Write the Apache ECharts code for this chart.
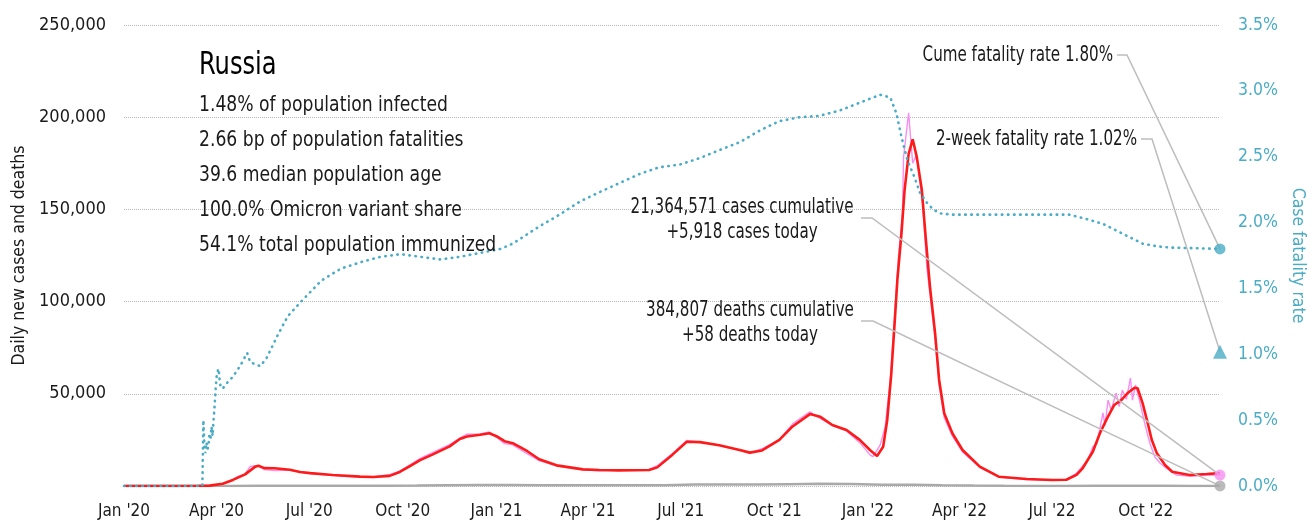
<!DOCTYPE html>
<html>
<head>
<meta charset="utf-8">
<script src="https://cdn.jsdelivr.net/npm/echarts@6/dist/echarts.min.js"></script>
<style>
  html, body { margin: 0; padding: 0; background: #fff; }
  #chart { width: 1312px; height: 522px; }
</style>
</head>
<body>
<div id="chart"></div>
<script>
const FONT = '"DejaVu Sans Condensed", "Liberation Sans Narrow", "Roboto Condensed", sans-serif';

// Daily new cases, 7-day average
const avgDates = ['2020-01-01','2020-03-10','2020-03-25','2020-04-07','2020-04-17','2020-04-29','2020-05-09','2020-05-12','2020-05-18','2020-05-28','2020-06-12','2020-06-22','2020-07-02','2020-07-24','2020-08-20','2020-09-02','2020-09-18','2020-09-28','2020-10-08','2020-10-18','2020-10-30','2020-11-16','2020-11-26','2020-12-03','2020-12-16','2020-12-25','2021-01-01','2021-01-09','2021-01-17','2021-01-31','2021-02-12','2021-03-01','2021-03-27','2021-04-12','2021-05-01','2021-05-31','2021-06-08','2021-06-23','2021-07-07','2021-07-20','2021-08-08','2021-08-28','2021-09-07','2021-09-19','2021-10-06','2021-10-19','2021-11-05','2021-11-15','2021-11-27','2021-12-11','2021-12-24','2022-01-03','2022-01-10','2022-01-16','2022-01-20','2022-01-24','2022-01-27','2022-01-30','2022-02-03','2022-02-06','2022-02-10','2022-02-14','2022-02-18','2022-02-23','2022-02-27','2022-03-03','2022-03-08','2022-03-12','2022-03-17','2022-03-25','2022-04-04','2022-04-21','2022-05-10','2022-06-06','2022-07-01','2022-07-15','2022-07-25','2022-07-31','2022-08-10','2022-08-17','2022-08-24','2022-08-31','2022-09-07','2022-09-13','2022-09-20','2022-09-23','2022-09-28','2022-10-03','2022-10-07','2022-10-12','2022-10-20','2022-10-27','2022-11-13','2022-11-30','2022-12-13'];
const avgCases = [0,0,200,1200,3300,6300,10500,11000,9700,9600,8800,7600,7000,6000,5100,4900,5500,7600,10800,14000,17000,21500,25500,26800,27800,28600,27000,24300,23200,19000,14500,11200,9000,8700,8500,8700,10100,17000,24000,23800,22100,19500,18100,19300,25000,32300,39000,37600,33100,30400,25000,19500,16300,21300,35800,61000,86000,112000,137000,160000,180000,188000,178500,160500,133500,108000,83000,57500,39500,28600,19500,10500,5000,3800,3250,3400,6000,9600,18600,28600,36700,43900,46600,50300,53300,53000,44800,34000,24900,17700,11400,7750,6000,6500,7000];

// Daily new cases as reported
const rawDates = ['2020-01-01','2020-03-10','2020-03-25','2020-04-07','2020-04-12','2020-04-17','2020-04-22','2020-04-29','2020-05-04','2020-05-09','2020-05-12','2020-05-18','2020-05-28','2020-06-12','2020-06-22','2020-07-02','2020-07-24','2020-08-20','2020-09-02','2020-09-18','2020-09-28','2020-10-08','2020-10-18','2020-10-30','2020-11-16','2020-11-26','2020-12-03','2020-12-16','2020-12-25','2021-01-01','2021-01-09','2021-01-17','2021-01-31','2021-02-12','2021-03-01','2021-03-27','2021-04-12','2021-05-01','2021-05-31','2021-06-08','2021-06-23','2021-07-07','2021-07-20','2021-08-08','2021-08-28','2021-09-07','2021-09-19','2021-10-06','2021-10-19','2021-11-05','2021-11-15','2021-11-27','2021-12-11','2021-12-24','2022-01-03','2022-01-06','2022-01-13','2022-01-18','2022-01-23','2022-01-27','2022-01-31','2022-02-04','2022-02-05','2022-02-10','2022-02-14','2022-02-17','2022-02-19','2022-02-24','2022-02-28','2022-03-03','2022-03-08','2022-03-12','2022-03-17','2022-03-25','2022-04-04','2022-04-21','2022-05-10','2022-06-06','2022-07-01','2022-07-15','2022-07-25','2022-07-31','2022-08-05','2022-08-10','2022-08-14','2022-08-20','2022-08-22','2022-08-25','2022-08-28','2022-09-02','2022-09-05','2022-09-08','2022-09-12','2022-09-16','2022-09-18','2022-09-21','2022-09-25','2022-09-30','2022-10-05','2022-10-10','2022-10-15','2022-10-21','2022-10-31','2022-11-15','2022-12-01','2022-12-13'];
const rawCases = [0,0,160,1150,2200,3400,5200,6400,10600,11000,10900,8900,8400,8700,7500,6700,5800,4900,4900,6100,8100,11500,15000,18100,22400,26000,28100,28200,29300,26500,23000,22300,17600,13800,11000,8800,8300,8900,9000,11000,17600,24700,23800,21900,19300,17800,20200,25100,33700,40200,36600,32900,29900,23500,16900,15900,22200,32200,57500,90000,124000,148000,178000,202400,175000,178600,175000,152000,118000,104000,80000,55000,37000,27000,18500,10000,4800,3500,3100,3500,7000,10800,14000,21300,23000,39600,33000,46600,41200,50400,43000,52000,47000,58600,46600,54800,46000,34000,23300,15700,12500,9800,6000,5200,6000,5918];

// Daily deaths, 7-day average
const deathDates = ['2020-01-01','2020-03-25','2020-04-15','2020-05-15','2020-06-15','2020-07-15','2020-08-15','2020-09-15','2020-10-15','2020-11-15','2020-12-15','2021-01-15','2021-02-15','2021-03-15','2021-04-15','2021-05-15','2021-06-15','2021-07-15','2021-08-15','2021-09-15','2021-10-15','2021-11-15','2021-12-15','2022-01-15','2022-02-15','2022-03-15','2022-04-15','2022-05-15','2022-06-15','2022-07-15','2022-08-15','2022-09-15','2022-10-15','2022-11-15','2022-12-13'];
const deaths = [0,0,40,140,150,130,110,110,230,400,550,540,450,390,370,370,460,750,790,790,1000,1210,1080,700,700,450,230,110,60,45,70,120,110,65,58];

// Case fatality rate, percent
const cfrDates = ['2020-01-01','2020-03-18','2020-03-19','2020-03-20','2020-03-21','2020-03-22','2020-03-23','2020-03-24','2020-03-25','2020-03-26','2020-03-27','2020-03-28','2020-03-29','2020-03-30','2020-03-31','2020-04-01','2020-04-02','2020-04-03','2020-04-04','2020-04-05','2020-04-07','2020-04-11','2020-04-17','2020-04-24','2020-05-01','2020-05-04','2020-05-14','2020-05-20','2020-06-01','2020-06-10','2020-06-23','2020-07-13','2020-08-01','2020-08-21','2020-09-09','2020-09-29','2020-10-18','2020-11-07','2020-11-26','2020-12-16','2021-01-05','2021-01-17','2021-01-31','2021-02-12','2021-03-04','2021-03-24','2021-04-12','2021-05-02','2021-05-22','2021-06-10','2021-06-30','2021-07-20','2021-08-08','2021-08-28','2021-09-17','2021-10-06','2021-10-26','2021-11-14','2021-12-04','2021-12-24','2022-01-13','2022-01-23','2022-01-29','2022-02-03','2022-02-09','2022-02-16','2022-02-21','2022-02-28','2022-03-06','2022-03-13','2022-03-25','2022-07-18','2022-07-28','2022-08-07','2022-08-20','2022-09-02','2022-09-15','2022-09-28','2022-10-12','2022-10-25','2022-12-13'];
const cfr = [0,0,0.50,0.30,0.25,0.33,0.28,0.30,0.40,0.35,0.45,0.38,0.50,0.60,0.73,0.83,0.87,0.89,0.80,0.75,0.74,0.78,0.83,0.91,1.01,0.94,0.91,0.97,1.16,1.29,1.40,1.56,1.65,1.70,1.74,1.76,1.74,1.72,1.74,1.77,1.80,1.84,1.91,1.97,2.06,2.16,2.23,2.30,2.37,2.42,2.44,2.49,2.55,2.61,2.70,2.77,2.80,2.81,2.85,2.91,2.97,2.95,2.83,2.65,2.47,2.34,2.23,2.15,2.10,2.07,2.06,2.06,2.04,2.02,1.99,1.94,1.89,1.84,1.82,1.81,1.80];

// Latest figures
const lastDate = '2022-12-13';
const casesCumulative = 21364571;
const casesToday = 5918;
const deathsCumulative = 384807;
const deathsToday = 58;
const cumeFatalityRate = 1.80;
const twoWeekFatalityRate = 1.02;

const country = 'Russia';
const statLines = [
  '1.48% of population infected',
  '2.66 bp of population fatalities',
  '39.6 median population age',
  '100.0% Omicron variant share',
  '54.1% total population immunized'
];

// Axis ticks
const xTickDates = ['2020-01-01','2020-04-01','2020-07-01','2020-10-01','2021-01-01','2021-04-01','2021-07-01','2021-10-01','2022-01-01','2022-04-01','2022-07-01','2022-10-01'];
const monthNames = ['Jan','Feb','Mar','Apr','May','Jun','Jul','Aug','Sep','Oct','Nov','Dec'];
const leftTicks = { min: 0, max: 250000, step: 50000 };
const rightTicks = { min: 0, max: 3.5, step: 0.5 };

const ts = s => { const p = s.split('-').map(Number); return Date.UTC(p[0], p[1] - 1, p[2]); };
const pairs = (dates, vals) => dates.map((d, i) => [ts(d), vals[i]]);
const fmt = n => n.toLocaleString('en-US');

const TEAL = '#4bacc6';
const RED = '#ff1a1a';
const PINK = '#f78ef2';
const GREY = '#a9a9a9';
const INK = '#1a1a1a';

const chart = echarts.init(document.getElementById('chart'), null, { renderer: 'canvas' });

const option = {
  animation: false,
  backgroundColor: '#fff',
  textStyle: { fontFamily: FONT },
  grid: { left: 124, right: 92, top: 25, bottom: 36, containLabel: false, outerBoundsMode: 'none' },
  xAxis: {
    // dates are plotted as UTC timestamps on a plain value scale
    type: 'value',
    min: ts('2020-01-01'),
    max: ts(lastDate),
    axisLine: { show: false },
    axisTick: { show: false },
    splitLine: { show: false },
    axisLabel: {
      customValues: xTickDates.map(ts),
      margin: 17,
      fontSize: 17,
      color: INK,
      fontFamily: FONT,
      hideOverlap: false,
      showMinLabel: true,
      showMaxLabel: true,
      formatter: v => { const d = new Date(v); return monthNames[d.getUTCMonth()] + " '" + String(d.getUTCFullYear()).slice(2); }
    }
  },
  yAxis: [
    {
      type: 'value',
      min: leftTicks.min, max: leftTicks.max, interval: leftTicks.step,
      name: 'Daily new cases and deaths',
      nameLocation: 'middle',
      nameRotate: 90,
      nameGap: 84,
      nameTextStyle: { fontSize: 17.5, color: INK, fontFamily: FONT },
      axisLine: { show: false },
      axisTick: { show: false },
      axisLabel: { margin: 18, fontSize: 18, color: INK, fontFamily: FONT, formatter: v => v === 0 ? '' : fmt(v) },
      splitLine: { show: true, lineStyle: { type: 'dotted', color: '#b9b9b9', width: 1 } }
    },
    {
      type: 'value',
      position: 'right',
      min: rightTicks.min, max: rightTicks.max, interval: rightTicks.step,
      name: 'Case fatality rate',
      nameLocation: 'middle',
      nameRotate: -90,
      nameGap: 66,
      nameTextStyle: { fontSize: 17.5, color: TEAL, fontFamily: FONT },
      axisLine: { show: false },
      axisTick: { show: false },
      axisLabel: { margin: 18, fontSize: 17.5, color: TEAL, fontFamily: FONT, formatter: v => v.toFixed(1) + '%' },
      splitLine: { show: false }
    }
  ],
  series: [
    {
      name: 'Daily cases', type: 'line', data: pairs(rawDates, rawCases),
      showSymbol: false, symbol: 'none', z: 2,
      lineStyle: { color: PINK, width: 1.4 }
    },
    {
      name: 'Daily deaths', type: 'line', data: pairs(deathDates, deaths),
      showSymbol: false, symbol: 'none', z: 3,
      lineStyle: { color: GREY, width: 2.5 }
    },
    {
      name: 'Cases, 7-day average', type: 'line', data: pairs(avgDates, avgCases),
      showSymbol: false, symbol: 'none', z: 4,
      lineStyle: { color: RED, width: 2.6 }
    },
    {
      name: 'Case fatality rate', type: 'line', yAxisIndex: 1, data: pairs(cfrDates, cfr),
      showSymbol: false, symbol: 'none', z: 5,
      lineStyle: { color: TEAL, width: 2.6, type: [0.5, 5.6], cap: 'round' }
    },
    {
      name: 'Cases today', type: 'scatter', data: [[ts(lastDate), casesToday]],
      symbol: 'circle', symbolSize: 11, clip: false, z: 8,
      itemStyle: { color: PINK }
    },
    {
      name: 'Deaths today', type: 'scatter', data: [[ts(lastDate), deathsToday]],
      symbol: 'circle', symbolSize: 11, clip: false, z: 8,
      itemStyle: { color: GREY }
    },
    {
      name: 'Cume fatality rate', type: 'scatter', yAxisIndex: 1, data: [[ts(lastDate), cumeFatalityRate]],
      symbol: 'circle', symbolSize: 11, clip: false, z: 8,
      itemStyle: { color: TEAL }
    },
    {
      name: '2-week fatality rate', type: 'scatter', yAxisIndex: 1, data: [[ts(lastDate), twoWeekFatalityRate]],
      symbol: 'triangle', symbolSize: 14, clip: false, z: 8,
      itemStyle: { color: TEAL }
    }
  ]
};

chart.setOption(option);

// Title block, annotations and leader lines; text is narrowed horizontally
const font = size => size + 'px ' + FONT;
const label = (text, x, y, size, squeeze, align, color) => ({
  type: 'text', z: 20, silent: true,
  x: x, y: y, scaleX: squeeze, scaleY: 1, originX: 0, originY: 0,
  style: { text: text, x: 0, y: 0, font: font(size), fill: color, textAlign: align, textVerticalAlign: 'middle' }
});

const graphics = [];
graphics.push(label(country, 199, 66, 32, 0.84, 'left', '#000'));
statLines.forEach((t, i) => graphics.push(label(t, 199, 106 + i * 35, 21, 0.91, 'left', INK)));

const notes = [
  { lines: ['Cume fatality rate ' + cumeFatalityRate.toFixed(2) + '%'], x: 1113, y: 56, align: 'right', from: [1117, 55], elbow: [1127, 55], series: 6, value: cumeFatalityRate },
  { lines: ['2-week fatality rate ' + twoWeekFatalityRate.toFixed(2) + '%'], x: 1137, y: 140, align: 'right', from: [1141, 139], elbow: [1152, 139], series: 7, value: twoWeekFatalityRate },
  { lines: [fmt(casesCumulative) + ' cases cumulative', '+' + fmt(casesToday) + ' cases today'], x: 742, y: 208, align: 'center', from: [861, 218], elbow: [872, 218], series: 4, value: casesToday },
  { lines: [fmt(deathsCumulative) + ' deaths cumulative', '+' + fmt(deathsToday) + ' deaths today'], x: 750, y: 311, align: 'center', from: [861, 321], elbow: [873, 321], series: 5, value: deathsToday }
];

notes.forEach(n => {
  n.lines.forEach((t, i) => graphics.push(label(t, n.x, n.y + i * 25, 20.5, 0.82, n.align, INK)));
  const end = chart.convertToPixel({ seriesIndex: n.series }, [ts(lastDate), n.value]);
  graphics.push({
    type: 'polyline', z: 6, silent: true,
    shape: { points: [n.from, n.elbow, end] },
    style: { stroke: '#bdbdbd', lineWidth: 1.5, fill: null }
  });
});

chart.setOption({ graphic: graphics });
</script>
</body>
</html>
